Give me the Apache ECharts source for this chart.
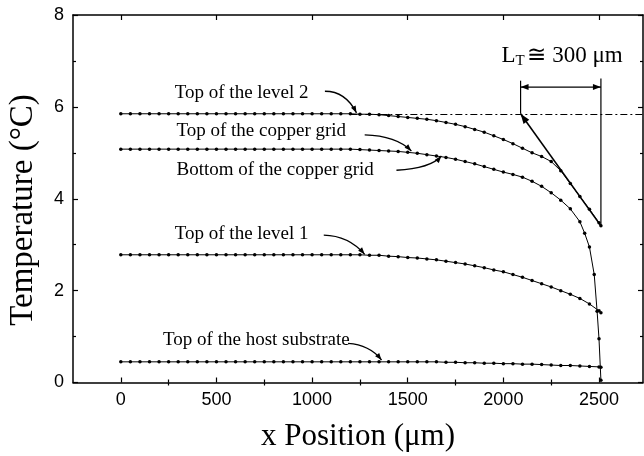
<!DOCTYPE html>
<html>
<head>
<meta charset="utf-8">
<script src="https://cdn.jsdelivr.net/npm/echarts@6/dist/echarts.min.js"></script>
<style>
  html, body { margin: 0; padding: 0; background: #fff; }
  #chart { width: 644px; height: 456px; }
</style>
</head>
<body>
<div id="chart"></div>
<script>
// Positions along the sample (µm)
const xPos = [0,50,100,150,200,250,300,350,400,450,500,550,600,650,700,750,800,850,900,950,1000,1050,1100,1150,1200,1250,1300,1350,1400,1450,1500,1550,1600,1650,1700,1750,1800,1850,1900,1950,2000,2050,2100,2150,2200,2250,2300,2350,2400,2450,2500,2510];

// Temperature rise (°C) at each position
const level2 = [5.85,5.85,5.85,5.85,5.85,5.85,5.85,5.85,5.85,5.85,5.85,5.85,5.85,5.85,5.85,5.85,5.85,5.85,5.85,5.85,5.85,5.85,5.85,5.85,5.85,5.84,5.84,5.83,5.81,5.79,5.77,5.75,5.73,5.70,5.66,5.62,5.57,5.51,5.45,5.37,5.29,5.20,5.10,5.00,4.92,4.81,4.61,4.33,4.05,3.77,3.48,3.41];
const level1 = [2.78,2.78,2.78,2.78,2.78,2.78,2.78,2.78,2.78,2.78,2.78,2.78,2.78,2.78,2.78,2.78,2.78,2.78,2.78,2.78,2.78,2.78,2.78,2.78,2.78,2.78,2.77,2.77,2.75,2.74,2.72,2.71,2.69,2.67,2.64,2.61,2.58,2.54,2.50,2.45,2.41,2.35,2.29,2.22,2.15,2.08,2.00,1.92,1.83,1.71,1.56,1.52];
const hostSubstrate = [0.45,0.45,0.45,0.45,0.45,0.45,0.45,0.45,0.45,0.45,0.45,0.45,0.45,0.45,0.45,0.45,0.45,0.45,0.45,0.45,0.45,0.45,0.45,0.45,0.45,0.45,0.45,0.45,0.45,0.45,0.45,0.45,0.45,0.45,0.44,0.44,0.43,0.43,0.42,0.42,0.41,0.41,0.40,0.40,0.39,0.38,0.37,0.37,0.36,0.35,0.34,0.33];

// The copper grid profile is sampled more finely near the edge
const copperX = [0,50,100,150,200,250,300,350,400,450,500,550,600,650,700,750,800,850,900,950,1000,1050,1100,1150,1200,1250,1300,1350,1400,1450,1500,1550,1600,1650,1700,1750,1800,1850,1900,1950,2000,2050,2100,2150,2200,2250,2300,2350,2400,2425,2450,2475,2490,2500,2510];
const copperGrid = [5.08,5.08,5.08,5.08,5.08,5.08,5.08,5.08,5.08,5.08,5.08,5.08,5.08,5.08,5.08,5.08,5.08,5.08,5.08,5.08,5.08,5.08,5.08,5.08,5.08,5.07,5.06,5.05,5.04,5.03,5.01,4.99,4.96,4.93,4.90,4.86,4.81,4.76,4.70,4.64,4.58,4.53,4.47,4.38,4.27,4.13,3.97,3.78,3.50,3.25,2.95,2.35,1.55,0.95,0.05];

// Axis ticks
const xMajor = [0,500,1000,1500,2000,2500];
const xMinor = [250,750,1250,1750,2250];
const curveNames = ['Top of the level 2','Top of the copper grid','Bottom of the copper grid','Top of the level 1','Top of the host substrate'];

// Plateau temperature and thermal length markers
const plateauT = 5.85;
const ltStartX = 2090;
const edgeX = 2510;
const edgeT = 3.41;

const BLACK = '#000';
const tickFont = 'Liberation Sans';
const serif = '"Liberation Serif", "Times New Roman", serif';

function toPairs(xs, ys) { return xs.map((x, i) => [x, ys[i]]); }

function curve(name, xs, ys, extra) {
  return Object.assign({
    name: name,
    type: 'line',
    data: toPairs(xs, ys),
    symbol: 'circle',
    symbolSize: 3.5,
    showSymbol: true,
    lineStyle: { color: BLACK, width: 1 },
    itemStyle: { color: BLACK },
    animation: false,
    silent: true
  }, extra || {});
}

const X_MIN = -250, X_MAX = 2730;
const plain = v => String(v);

const option = {
  animation: false,
  backgroundColor: '#fff',
  grid: { left: 73, top: 15, width: 570, height: 367.5, containLabel: false },
  xAxis: [
    {
      type: 'value', position: 'bottom', min: X_MIN, max: X_MAX,
      axisLine: { show: true, onZero: false, lineStyle: { color: BLACK, width: 1.5 } },
      axisTick: { show: true, inside: true, length: 5, customValues: xMajor, lineStyle: { color: BLACK, width: 1.2 } },
      axisLabel: { show: true, customValues: xMajor, formatter: plain, margin: 9, color: BLACK, fontFamily: tickFont, fontSize: 18 },
      splitLine: { show: false }
    },
    {
      type: 'value', position: 'bottom', min: X_MIN, max: X_MAX,
      axisLine: { show: false },
      axisTick: { show: true, inside: true, length: 3, customValues: xMinor, lineStyle: { color: BLACK, width: 1.2 } },
      axisLabel: { show: false },
      splitLine: { show: false }
    },
    {
      type: 'value', position: 'top', min: X_MIN, max: X_MAX,
      axisLine: { show: true, onZero: false, lineStyle: { color: BLACK, width: 1.5 } },
      axisTick: { show: true, inside: true, length: 5, customValues: xMajor, lineStyle: { color: BLACK, width: 1.2 } },
      axisLabel: { show: false },
      splitLine: { show: false }
    },
    {
      type: 'value', position: 'top', min: X_MIN, max: X_MAX,
      axisLine: { show: false },
      axisTick: { show: true, inside: true, length: 3, customValues: xMinor, lineStyle: { color: BLACK, width: 1.2 } },
      axisLabel: { show: false },
      splitLine: { show: false }
    }
  ],
  yAxis: [
    {
      type: 'value', position: 'left', min: 0, max: 8, interval: 2,
      axisLine: { show: true, onZero: false, lineStyle: { color: BLACK, width: 1.5 } },
      axisTick: { show: true, inside: true, length: 5, lineStyle: { color: BLACK, width: 1.2 } },
      minorTick: { show: true, splitNumber: 2, length: 3, lineStyle: { color: BLACK, width: 1.2 } },
      axisLabel: { show: true, formatter: plain, margin: 9, color: BLACK, fontFamily: tickFont, fontSize: 18 },
      splitLine: { show: false }, minorSplitLine: { show: false }
    },
    {
      type: 'value', position: 'right', min: 0, max: 8, interval: 2,
      axisLine: { show: true, onZero: false, lineStyle: { color: BLACK, width: 1.5 } },
      axisTick: { show: true, inside: true, length: 5, lineStyle: { color: BLACK, width: 1.2 } },
      minorTick: { show: true, splitNumber: 2, length: 3, lineStyle: { color: BLACK, width: 1.2 } },
      axisLabel: { show: false },
      splitLine: { show: false }, minorSplitLine: { show: false }
    }
  ],
  series: [
    curve(curveNames[0], xPos, level2, {
      markLine: {
        silent: true, animation: false, symbol: ['none', 'none'],
        label: { show: false },
        lineStyle: { color: BLACK, width: 1, type: [7, 3, 2, 3] },
        data: [[{ coord: [1200, plateauT] }, { coord: [X_MAX, plateauT] }]]
      }
    }),
    curve(curveNames[1], copperX, copperGrid),
    curve(curveNames[3], xPos, level1),
    curve(curveNames[4], xPos, hostSubstrate)
  ]
};

const chart = echarts.init(document.getElementById('chart'), null, { renderer: 'canvas' });
chart.setOption(option);

const px = (p) => chart.convertToPixel({ xAxisIndex: 0, yAxisIndex: 0 }, p);

function arrowHead(tip, from, len, half) {
  const dx = tip[0] - from[0], dy = tip[1] - from[1];
  const d = Math.hypot(dx, dy) || 1;
  const ux = dx / d, uy = dy / d;
  const bx = tip[0] - ux * len, by = tip[1] - uy * len;
  return {
    type: 'polygon', silent: true, z: 20,
    shape: { points: [tip, [bx - uy * half, by + ux * half], [bx + uy * half, by - ux * half]] },
    style: { fill: BLACK }
  };
}

function seg(a, b, w) {
  return { type: 'line', silent: true, z: 20, shape: { x1: a[0], y1: a[1], x2: b[0], y2: b[1] }, style: { stroke: BLACK, lineWidth: w || 1.2 } };
}

function label(text, p, font, align) {
  return {
    type: 'text', silent: true, z: 20, x: p[0], y: p[1],
    style: { text: text, font: font, fill: BLACK, textAlign: align || 'left', textVerticalAlign: 'middle', align: align || 'left', verticalAlign: 'middle' }
  };
}

// Callouts: label anchor, then curved leader from start through control to the curve
const callouts = [
  { text: curveNames[0], at: [282, 6.31], from: [1067, 6.34], ctrl: [1175, 6.34], to: [1232, 5.87] },
  { text: curveNames[1], at: [291, 5.48], from: [1275, 5.39], ctrl: [1440, 5.37], to: [1519, 5.04] },
  { text: curveNames[2], at: [291, 4.62], from: [1441, 4.62], ctrl: [1620, 4.66], to: [1676, 4.93] },
  { text: curveNames[3], at: [282, 3.24], from: [1061, 3.21], ctrl: [1190, 3.20], to: [1275, 2.79] },
  { text: curveNames[4], at: [221, 0.93], from: [1188, 0.85], ctrl: [1300, 0.82], to: [1363, 0.49] }
];

const labelFont = '19px ' + serif;
const graphics = [];

callouts.forEach(c => {
  const a = px(c.from), k = px(c.ctrl), b = px(c.to);
  graphics.push(label(c.text, px(c.at), labelFont));
  graphics.push({
    type: 'bezierCurve', silent: true, z: 20,
    shape: { x1: a[0], y1: a[1], x2: b[0], y2: b[1], cpx1: k[0], cpy1: k[1] },
    style: { stroke: BLACK, lineWidth: 1.3, fill: null }
  });
  graphics.push(arrowHead(b, k, 7, 2.6));
});

// Thermal length construction
const ltTop = px([ltStartX, 6.57]);
const ltBase = px([ltStartX, plateauT]);
const edgeTop = px([edgeX, 6.62]);
const edgeEnd = px([edgeX, edgeT]);
const spanL = px([ltStartX, 6.43]);
const spanR = px([edgeX, 6.43]);

graphics.push(seg(ltTop, ltBase, 1.2));
graphics.push(seg(edgeTop, edgeEnd, 1.2));
graphics.push(seg(spanL, spanR, 1.4));
graphics.push(arrowHead(spanL, spanR, 8, 3));
graphics.push(arrowHead(spanR, spanL, 8, 3));
graphics.push(seg(edgeEnd, ltBase, 1.6));
graphics.push(arrowHead(ltBase, edgeEnd, 10, 3.5));

const ltAnchor = px([1990, 7.11]);
graphics.push(label('L', ltAnchor, '23px ' + serif));
graphics.push(label('T', [ltAnchor[0] + 14, ltAnchor[1] + 5], '15px ' + serif));
graphics.push(label('≅ 300 μm', [ltAnchor[0] + 26, ltAnchor[1]], '23px ' + serif));

// Axis titles
graphics.push(label('x Position (μm)', [358, 437], '31px ' + serif, 'center'));
graphics.push({
  type: 'text', silent: true, z: 20, x: 23, y: 210, rotation: Math.PI / 2,
  style: { text: 'Temperature (°C)', font: '33px ' + serif, fill: BLACK, textAlign: 'center', textVerticalAlign: 'middle', align: 'center', verticalAlign: 'middle' }
});

chart.setOption({ graphic: graphics });
</script>
</body>
</html>
